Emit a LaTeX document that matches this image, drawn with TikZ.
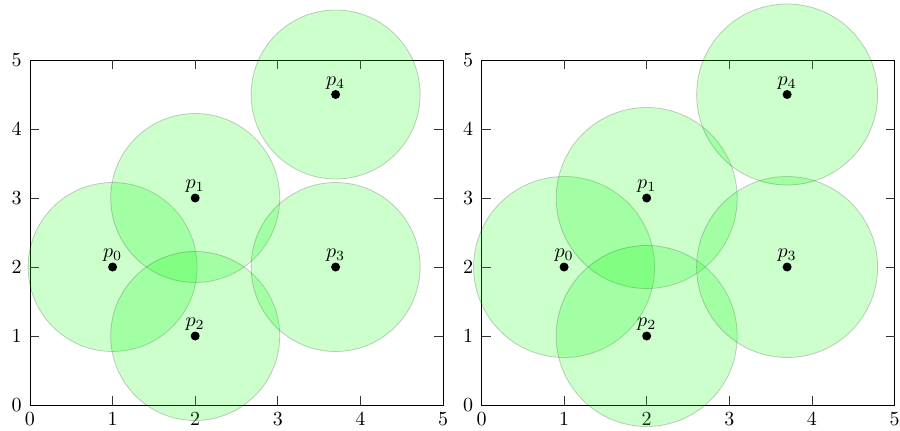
\documentclass[tikz,border=0pt]{standalone}
\usetikzlibrary{positioning}

\begin{document}
\begin{tikzpicture}[x=0.5pt, y=-0.5pt,
  frame/.style={draw=black, line width=0.4pt},
  tck/.style={draw=black!80, line width=0.35pt},
  zone/.style={fill=green, fill opacity=0.2, draw=black, draw opacity=0.2, line width=0.4pt},
  site/.style={circle, fill=black, minimum size=4.5pt, inner sep=0pt},
  plab/.style={inner sep=1pt, label distance=-1pt},
  xlab/.style={anchor=north},
  ylab/.style={anchor=east, xshift=-0.6pt}]

\useasboundingbox (0,0) rectangle (900,430);

%% --- two panels: left r = 84.5px, right r = 90.5px ---
\foreach \ox/\rad [count=\k] in {30/42.25pt, 481.5/45.25pt} {
  \begin{scope}[shift={(\ox,405)}, x=41.3pt, y=34.5pt]
    %% frame and ticks
    \draw[frame] (0,0) rectangle (5,5);
    \foreach \t in {1,...,4} {
      \draw[tck] (\t,0) -- ++(0pt,4.5pt);
      \draw[tck] (\t,5) -- ++(0pt,-4.5pt);
      \draw[tck] (0,\t) -- ++(4.5pt,0pt);
      \draw[tck] (5,\t) -- ++(-4.5pt,0pt);
    }
    \foreach \t in {0,...,5} {
      \node[xlab] (xt\k-\t) at (\t,0) {\t};
      \node[ylab] (yt\k-\t) at (0,\t) {\t};
    }
    %% sites
    \foreach \i/\px/\py in {0/1/2, 1/2/3, 2/2/1, 3/3.7/2, 4/3.7/4.5}
      \coordinate (c\k-\i) at (\px,\py);
    %% coverage discs
    \foreach \i in {0,...,4}
      \draw[zone] (c\k-\i) circle[radius=\rad];
    \foreach \i in {0,...,4}
      \node[site, label={[plab]above:$p_{\i}$}] (p\k-\i) at (c\k-\i) {};
  \end{scope}
}
\end{tikzpicture}
\end{document}
